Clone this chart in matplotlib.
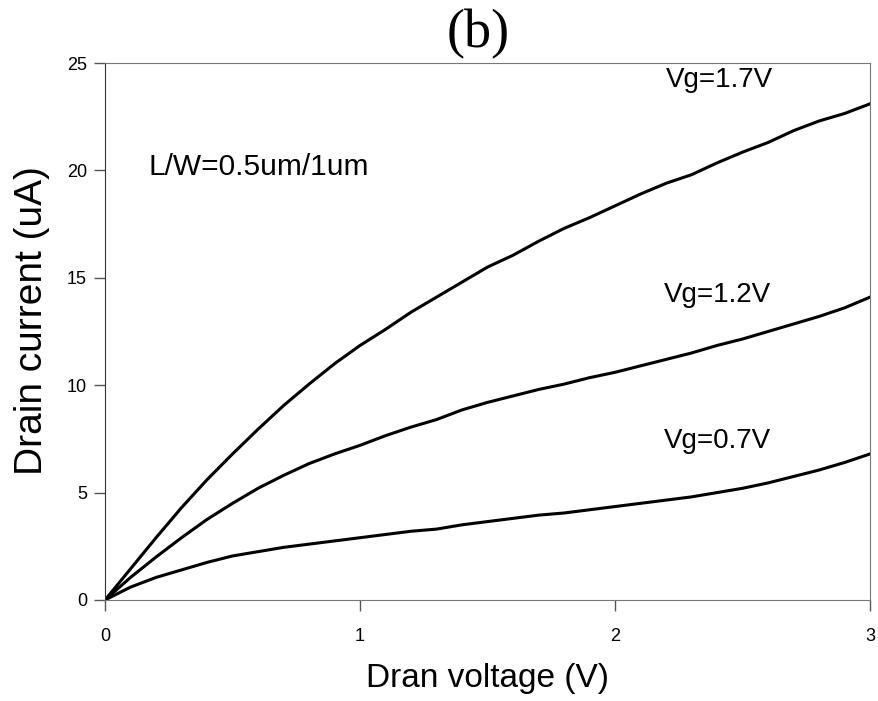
import matplotlib
matplotlib.use("Agg")
import matplotlib.pyplot as plt

# drain voltage (V)
vd = [0.0, 0.1, 0.2, 0.3, 0.4, 0.5, 0.6, 0.7, 0.8, 0.9, 1.0,
      1.1, 1.2, 1.3, 1.4, 1.5, 1.6, 1.7, 1.8, 1.9, 2.0,
      2.1, 2.2, 2.3, 2.4, 2.5, 2.6, 2.7, 2.8, 2.9, 3.0]

# drain current (uA) for each gate voltage
id_17 = [0.0, 1.45, 2.9, 4.3, 5.6, 6.8, 7.95, 9.05, 10.05, 11.0, 11.85,
         12.6, 13.4, 14.1, 14.8, 15.5, 16.05, 16.7, 17.3, 17.8, 18.35,
         18.9, 19.4, 19.8, 20.35, 20.85, 21.3, 21.85, 22.3, 22.65, 23.1]
id_12 = [0.0, 1.05, 2.0, 2.9, 3.75, 4.5, 5.2, 5.8, 6.35, 6.8, 7.2,
         7.65, 8.05, 8.4, 8.85, 9.2, 9.5, 9.8, 10.05, 10.35, 10.6,
         10.9, 11.2, 11.5, 11.85, 12.15, 12.5, 12.85, 13.2, 13.6, 14.1]
id_07 = [0.0, 0.6, 1.05, 1.4, 1.75, 2.05, 2.25, 2.45, 2.6, 2.75, 2.9,
         3.05, 3.2, 3.3, 3.5, 3.65, 3.8, 3.95, 4.05, 4.2, 4.35,
         4.5, 4.65, 4.8, 5.0, 5.2, 5.45, 5.75, 6.05, 6.4, 6.8]

labels = ["Vg=1.7V", "Vg=1.2V", "Vg=0.7V"]
label_pos = [(2.41, 24.2), (2.40, 14.2), (2.40, 7.4)]

plt.rcParams['font.family'] = ['Liberation Sans', 'DejaVu Sans']

fig = plt.figure(figsize=(8.79, 7.01), dpi=100)
ax = fig.add_axes([0.1195, 0.1441, 0.8703, 0.766])

for curve in [id_17, id_12, id_07]:
    ax.plot(vd, curve, color='black', linewidth=2.2)

for txt, (x, y) in zip(labels, label_pos):
    ax.text(x, y, txt, fontsize=20, ha='center', va='center')
ax.text(0.604, 20.16, "L/W=0.5um/1um", fontsize=21.5, ha='center', va='center')

ax.set_xlim(0, 3)
ax.set_ylim(0, 25)
ax.set_xticks([0, 1, 2, 3])
ax.set_yticks([0, 5, 10, 15, 20, 25])
ax.tick_params(direction='out', length=8, width=1, colors='#555555', labelsize=13, labelcolor='black', pad=12)
ax.tick_params(axis='y', pad=5)

for side in ['top', 'right', 'bottom']:
    ax.spines[side].set_color('#777777')
ax.spines['left'].set_color('#333333')

ax.set_xlabel("Dran voltage (V)", fontsize=24, labelpad=13)
ax.set_ylabel("Drain current (uA)", fontsize=28, labelpad=6)
ax.yaxis.set_label_coords(-0.072, 0.52)

fig.text(0.544, 0.951, "(b)", fontsize=39, ha='center', va='center', family='Liberation Serif')

fig.savefig("out.png", dpi=100)
